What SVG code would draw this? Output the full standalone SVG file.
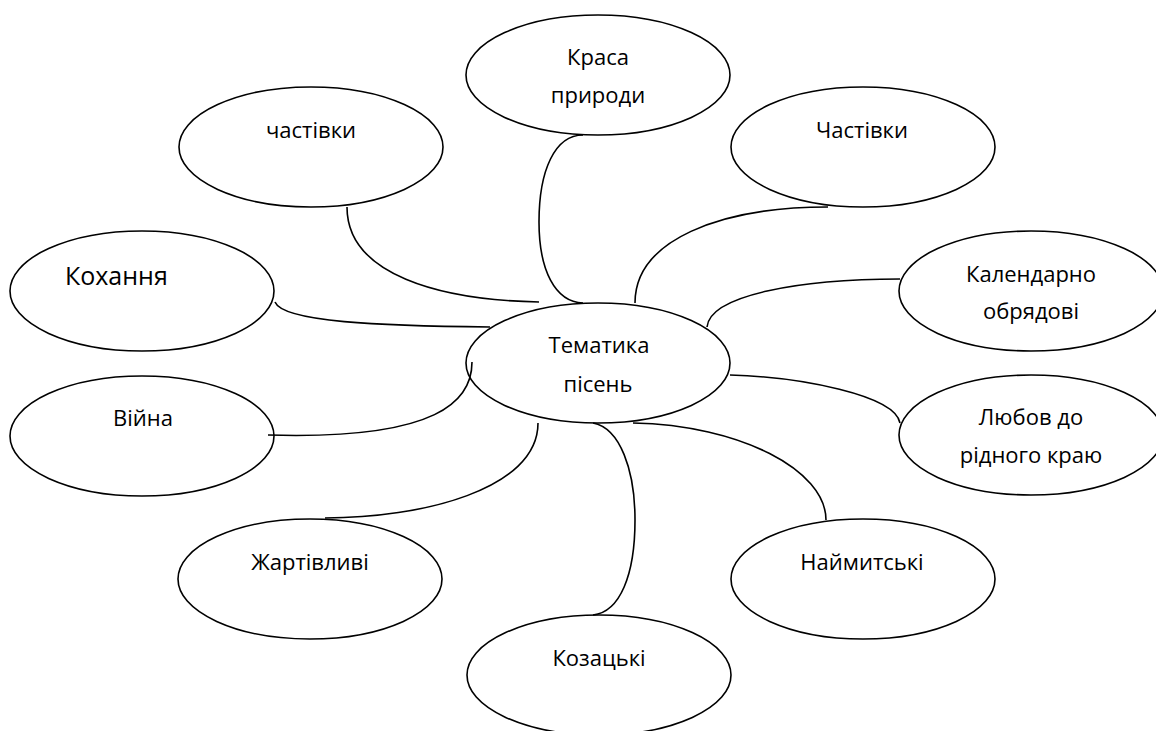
<svg xmlns="http://www.w3.org/2000/svg" width="1156" height="731" viewBox="0 0 1156 731">
<style>
.n{fill:none;stroke:#000;stroke-width:1.6}
.c{fill:none;stroke:#000;stroke-width:1.6}
.t{font-family:"Open Sans","Noto Sans",sans-serif;font-size:22px;fill:#000;text-anchor:middle}
.big{font-size:25px;text-anchor:start}
</style>
<rect width="1156" height="731" fill="#fff"/>
<g id="connectors">
<path class="c" d="M583,135 C555,135 539,170 539,222 C539,270 555,302 583,303"/>
<path class="c" d="M635,303 C635,240 720,207 828,207"/>
<path class="c" d="M347,207 C347,275 440,300 539,302"/>
<path class="c" d="M275,302 C283,322 380,326 490,327"/>
<path class="c" d="M268,435 C440,440 472,400 472,362"/>
<path class="c" d="M707,327 C710,295 800,279 900,279"/>
<path class="c" d="M730,375 C800,377 895,395 900,423"/>
<path class="c" d="M633,423 C740,425 826,470 826,520"/>
<path class="c" d="M593,423 C620,428 635,470 635,520 C635,575 620,612 593,615"/>
<path class="c" d="M538,423 C538,490 420,518 325,518"/>
</g>
<g id="center"><ellipse class="n" cx="598" cy="363" rx="132" ry="60"/><text class="t" x="599" y="353">Тематика</text><text class="t" x="598" y="392">пісень</text></g>
<g id="krasa"><ellipse class="n" cx="598" cy="75" rx="132" ry="60"/><text class="t" x="598" y="65">Краса</text><text class="t" x="598" y="103">природи</text></g>
<g id="chastivky1"><ellipse class="n" cx="311" cy="147" rx="132" ry="60"/><text class="t" x="311" y="138">частівки</text></g>
<g id="chastivky2"><ellipse class="n" cx="863" cy="147" rx="132" ry="60"/><text class="t" x="862" y="138">Частівки</text></g>
<g id="kokhannia"><ellipse class="n" cx="142" cy="291" rx="132" ry="60"/><text class="t big" x="65" y="285">Кохання</text></g>
<g id="viina"><ellipse class="n" cx="142" cy="436" rx="132" ry="60"/><text class="t" x="143" y="426">Війна</text></g>
<g id="kalendarno"><ellipse class="n" cx="1031" cy="291" rx="132" ry="60"/><text class="t" x="1031" y="282">Календарно</text><text class="t" x="1031" y="319">обрядові</text></g>
<g id="liubov"><ellipse class="n" cx="1031" cy="435" rx="132" ry="60"/><text class="t" x="1031" y="425">Любов до</text><text class="t" x="1031" y="463">рідного краю</text></g>
<g id="zhartivlyvi"><ellipse class="n" cx="310" cy="579" rx="132" ry="60"/><text class="t" x="310" y="570">Жартівливі</text></g>
<g id="naimytski"><ellipse class="n" cx="863" cy="579" rx="132" ry="60"/><text class="t" x="862" y="570">Наймитські</text></g>
<g id="kozatski"><ellipse class="n" cx="599" cy="675" rx="132" ry="60"/><text class="t" x="599" y="666">Козацькі</text></g>
</svg>
